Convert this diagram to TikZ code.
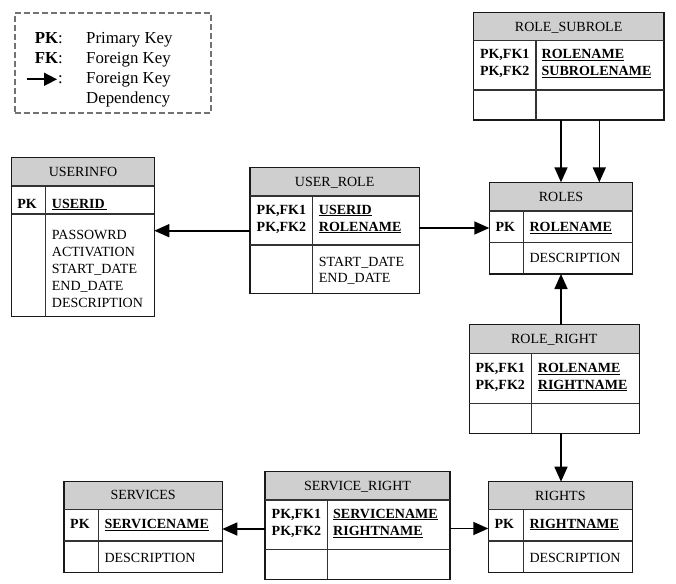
\documentclass[tikz,border=0pt]{standalone}
\usepackage{fontspec}
\setmainfont{Liberation Serif}
\usetikzlibrary{arrows.meta,fit}
\tikzset{
  hdrfill/.style={fill=black!19},
  tblbox/.style={draw=black!90, line width=1.1pt, inner sep=0pt, outer sep=0pt},
  tblline/.style={draw=black!80, line width=1.1pt},
  ttl/.style={inner sep=0pt, anchor=base, font=\fontsize{14}{17}\selectfont},
  txt/.style={inner sep=0pt, anchor=base west, font=\fontsize{14}{17}\selectfont},
  ltxt/.style={inner sep=0pt, anchor=base west, font=\fontsize{16.8}{20}\selectfont},
  fk/.style={draw=black, line width=1.6pt, -{Triangle[length=15pt,width=13pt]}},
  legendbox/.style={draw=black!55, line width=1.3pt, dash pattern=on 6pt off 3pt, inner sep=0pt, outer sep=0pt}
}
\newcommand{\kk}[1]{\textbf{\underline{#1}}}
\newcommand{\erdbox}[9]{%
  \fill[hdrfill] (#2,#5) rectangle (#3,#6);
  \coordinate (#1-nw) at (#2,#5);
  \coordinate (#1-se) at (#3,#8);
  \node[tblbox, fit=(#1-nw)(#1-se)] (#1) {};
  \draw[tblline] (#2,#6) -- (#3,#6);
  \draw[tblline] (#2,#7) -- (#3,#7);
  \draw[tblline] (#4,#6) -- (#4,#8);
  \node[ttl] (#1-title) at ({(#2+#3)/2},{(#5+#6)/2+4.6}) {#9};
}
\begin{document}
\begin{tikzpicture}[x=1pt,y=-1pt]
\useasboundingbox (0,0) rectangle (676,583);

% legend
\node[legendbox, minimum width=196pt, minimum height=100pt, anchor=north west] (legend) at (15,13) {};
\node[ltxt, anchor=base east] (lpk) at (63,43.3) {\textbf{PK}:};
\node[ltxt] (lpkt) at (86,43.3) {Primary Key};
\node[ltxt, anchor=base east] (lfk) at (63,63.3) {\textbf{FK}:};
\node[ltxt] (lfkt) at (86,63.3) {Foreign Key};
\coordinate (lgA) at (27,79.3);
\coordinate (lgB) at (57,79.3);
\draw[fk, -{Triangle[length=13pt,width=13pt]}] (lgA) -- (lgB);
\node[ltxt, anchor=base east] (lar) at (63,83.3) {:};
\node[ltxt] (lart) at (86,83.3) {Foreign Key};
\node[ltxt] (lart2) at (86,103.3) {Dependency};

% USERINFO
\erdbox{userinfo}{11.7}{154.3}{45.7}{157.3}{186}{214}{316.7}{USERINFO}
\node[txt] (ui-pk) at (17.2,208) {\textbf{PK}};
\node[txt] (ui-k) at (51.7,208) {\kk{USERID\,}};
\node[txt] (ui-a1) at (51.7,239.3) {PASSOWRD};
\node[txt] (ui-a2) at (51.7,256.3) {ACTIVATION};
\node[txt] (ui-a3) at (51.7,273.3) {START\_DATE};
\node[txt] (ui-a4) at (51.7,290.3) {END\_DATE};
\node[txt] (ui-a5) at (51.7,307.3) {DESCRIPTION};

% USER_ROLE
\erdbox{userrole}{250}{419.3}{312.7}{167.3}{196}{245}{293.3}{USER\_ROLE}
\node[txt] (ur-k1) at (256.5,214) {\textbf{PK,FK1}};
\node[txt] (ur-k2) at (256.5,231) {\textbf{PK,FK2}};
\node[txt] (ur-n1) at (318.7,214) {\kk{USERID}};
\node[txt] (ur-n2) at (318.7,231) {\kk{ROLENAME}};
\node[txt] (ur-a1) at (318.7,266.3) {START\_DATE};
\node[txt] (ur-a2) at (318.7,282.3) {END\_DATE};

% ROLE_SUBROLE
\erdbox{rolesub}{473.3}{664}{536}{12.3}{40.7}{90}{120}{ROLE\_SUBROLE}
\node[txt] (rs-k1) at (479.8,59) {\textbf{PK,FK1}};
\node[txt] (rs-k2) at (479.8,75.7) {\textbf{PK,FK2}};
\node[txt] (rs-n1) at (541.5,59) {\kk{ROLENAME}};
\node[txt] (rs-n2) at (541.5,75.7) {\kk{SUBROLENAME}};

% ROLES
\erdbox{roles}{489.3}{632.7}{523.3}{182.3}{211}{242.3}{274}{ROLES}
\node[txt] (ro-pk) at (495.3,231.3) {\textbf{PK}};
\node[txt] (ro-k) at (529.3,231.3) {\kk{ROLENAME}};
\node[txt] (ro-a) at (529.3,262) {DESCRIPTION};

% ROLE_RIGHT
\erdbox{roleright}{469.3}{639.3}{531.7}{324.7}{353.3}{403.3}{433.3}{ROLE\_RIGHT}
\node[txt] (rr-k1) at (475.3,372.3) {\textbf{PK,FK1}};
\node[txt] (rr-k2) at (475.3,389) {\textbf{PK,FK2}};
\node[txt] (rr-n1) at (537.7,372.3) {\kk{ROLENAME}};
\node[txt] (rr-n2) at (537.7,389) {\kk{RIGHTNAME}};

% RIGHTS
\erdbox{rights}{488.3}{632.3}{523.3}{481.7}{509.3}{541}{572.3}{RIGHTS}
\node[txt] (ri-pk) at (494.3,528) {\textbf{PK}};
\node[txt] (ri-k) at (529.3,528) {\kk{RIGHTNAME}};
\node[txt] (ri-a) at (529.3,562.3) {DESCRIPTION};

% SERVICES
\erdbox{services}{64}{222.3}{98.3}{481.3}{509.3}{541}{572.7}{SERVICES}
\node[txt] (sv-pk) at (70,528.7) {\textbf{PK}};
\node[txt] (sv-k) at (104.3,528.7) {\kk{SERVICENAME}};
\node[txt] (sv-a) at (104.3,562.3) {DESCRIPTION};

% SERVICE_RIGHT
\erdbox{servright}{265}{450}{327.3}{471.7}{500}{549.3}{579.3}{SERVICE\_RIGHT}
\node[txt] (sr-k1) at (271.5,518) {\textbf{PK,FK1}};
\node[txt] (sr-k2) at (271.5,535.3) {\textbf{PK,FK2}};
\node[txt] (sr-n1) at (333,518) {\kk{SERVICENAME}};
\node[txt] (sr-n2) at (333,535.3) {\kk{RIGHTNAME}};

% connectors
\draw[fk] (userrole.west |- 0,230.7) -- (userinfo.east |- 0,230.7);
\draw[fk] (userrole.east |- 0,228) -- (roles.west |- 0,228);
\draw[fk] (rolesub.south -| 561,0) -- (roles.north -| 561,0);
\draw[fk] (rolesub.south -| 599.3,0) -- (roles.north -| 599.3,0);
\draw[fk] (roleright.north -| 561,0) -- (roles.south -| 561,0);
\draw[fk] (roleright.south -| 561,0) -- (rights.north -| 561,0);
\draw[fk] (servright.west |- 0,529) -- (services.east |- 0,529);
\draw[fk] (servright.east |- 0,528.5) -- (rights.west |- 0,528.5);
\end{tikzpicture}
\end{document}
